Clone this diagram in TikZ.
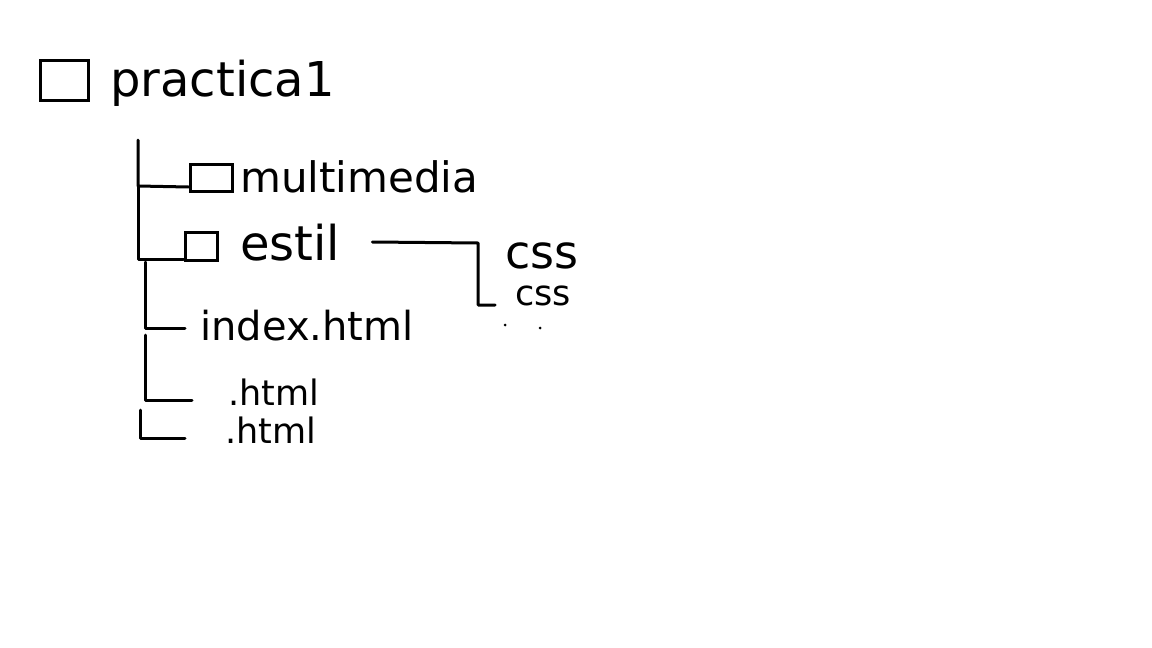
\documentclass[tikz,border=0pt]{standalone}
\usepackage{fontspec}
\setmainfont{DejaVu Sans}
\usetikzlibrary{positioning}
\tikzset{
  sketch/.style={line width=3pt, line cap=round, line join=round},
  folder/.style={draw, line width=3pt, inner sep=0pt},
  lbl/.style={font=\fontsize{#1}{#1}\selectfont, anchor=base west, inner sep=0pt},
}
\begin{document}
\begin{tikzpicture}[x=1pt, y=-1pt]
\useasboundingbox (0,0) rectangle (1152,648);

% root folder
\node[folder, minimum width=48pt, minimum height=40pt] (rootbox) at (64,80) {};
\node[lbl=48] (root) at (110,96) {practica1};

% sub folders
\node[folder, minimum width=42pt, minimum height=27pt] (mmbox) at (211,178) {};
\node[lbl=42] (mm) at (240,192) {multimedia};
\node[folder, minimum width=32pt, minimum height=28pt] (estbox) at (201,246) {};
\node[lbl=48] (est) at (240,260) {estil};

% files
\node[lbl=40] (index) at (200,340) {index.html};
\node[lbl=35] (htmla) at (228,405) {.html};
\node[lbl=35] (htmlb) at (225,443) {.html};
\node[lbl=46] (cssa) at (505,268) {css};
\node[lbl=35] (cssb) at (515,305) {css};

% tree lines
\coordinate (t0) at (138,140);
\coordinate (t1) at (138,186);
\coordinate (t2) at (145,262);
\coordinate (t3) at (145,335);
\coordinate (t4) at (140,410);
\draw[sketch] (t0) -- (t1) -- ([yshift=6pt]mmbox.south west);
\draw[sketch] (t1) |- ([yshift=2pt]estbox.south west);
\draw[sketch] (t2) |- ([xshift=-15pt, yshift=12pt]index.base west);
\draw[sketch] (t3) |- ([xshift=-36pt, yshift=5pt]htmla.base west);
\draw[sketch] (t4) |- ([xshift=-40pt, yshift=5pt]htmlb.base west);

% estil contents
\coordinate (e0) at ([xshift=32pt, yshift=18pt]est.base east);
\coordinate (e1) at (478,243);
\draw[sketch] (e0) -- (e1) |- ([xshift=-20pt, yshift=0pt]cssb.base west);

% stray dots
\fill (505,325) circle (1.5pt);
\fill (540,328) circle (1.5pt);
\end{tikzpicture}
\end{document}
